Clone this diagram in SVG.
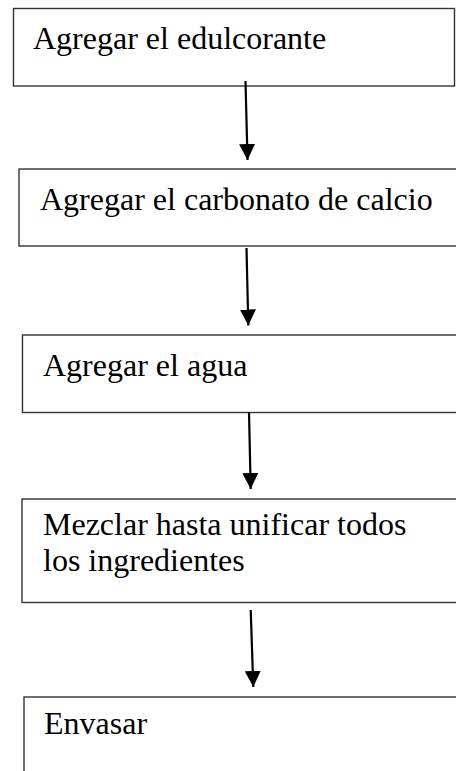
<svg xmlns="http://www.w3.org/2000/svg" width="456" height="771" viewBox="0 0 456 771">
<style>
.box{fill:#fff;stroke:#333;stroke-width:1.4}
.lbl{font-family:"Liberation Serif","Times New Roman",serif;font-size:32px;fill:#000}
.conn{stroke:#000;stroke-width:2.2;fill:none;marker-end:url(#ah)}
</style>
<defs>
<marker id="ah" markerUnits="userSpaceOnUse" markerWidth="16" markerHeight="16" refX="16" refY="8" orient="auto" viewBox="0 0 16 16">
<path d="M0,0 L16,8 L0,16 z" fill="#000"/>
</marker>
</defs>
<g id="n1"><rect class="box" x="13.5" y="8.5" width="441" height="77.5"/><text class="lbl" x="33" y="49">Agregar el edulcorante</text></g>
<g id="n2"><rect class="box" x="19" y="169" width="445" height="77"/><text class="lbl" x="40" y="210">Agregar el carbonato de calcio</text></g>
<g id="n3"><rect class="box" x="22.5" y="335" width="445" height="77.5"/><text class="lbl" x="43" y="376">Agregar el agua</text></g>
<g id="n4"><rect class="box" x="22" y="499" width="445" height="103.5"/><text class="lbl" x="43" y="535">Mezclar hasta unificar todos</text><text class="lbl" x="43" y="571">los ingredientes</text></g>
<g id="n5"><rect class="box" x="24" y="697" width="445" height="90"/><text class="lbl" x="44" y="734">Envasar</text></g>
<g id="connectors">
<line class="conn" x1="245.5" y1="81" x2="247.5" y2="160"/>
<line class="conn" x1="246.5" y1="248" x2="248.3" y2="325.5"/>
<line class="conn" x1="249" y1="412" x2="250.7" y2="489"/>
<line class="conn" x1="250.7" y1="610" x2="253.3" y2="687"/>
</g>
</svg>
